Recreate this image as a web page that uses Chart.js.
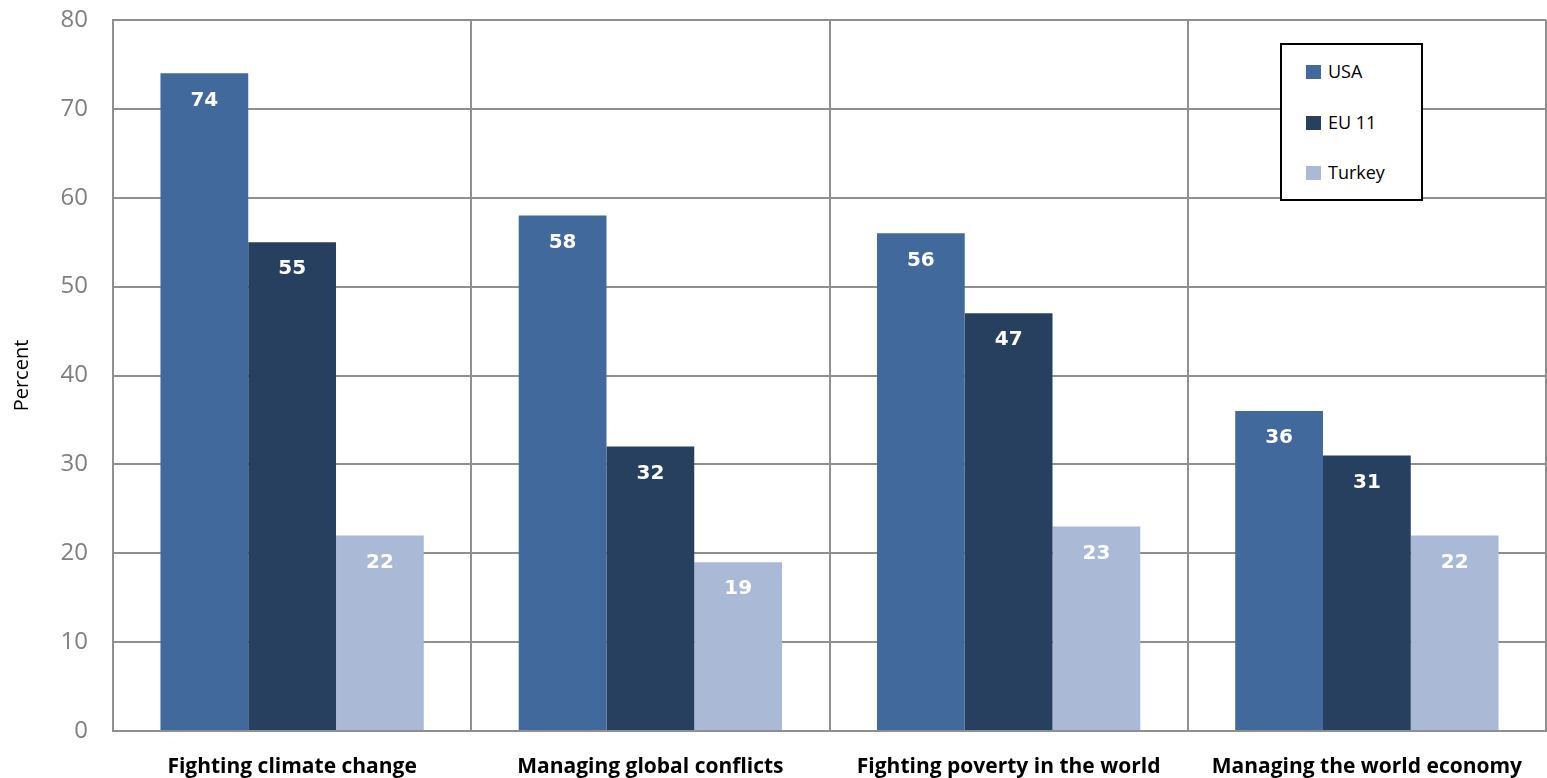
<!DOCTYPE html>
<html>
<head>
<meta charset="utf-8">
<script src="https://cdn.jsdelivr.net/npm/chart.js@4"></script>
<style>
  html, body { margin: 0; padding: 0; background: #fff; }
  #wrap { position: relative; width: 1547px; height: 778px; }
  #legend {
    position: absolute; left: 1280px; top: 43px; width: 139px; height: 154px;
    border: 2px solid #000; background: #fff;
    font-family: "Open Sans", sans-serif; font-size: 18px; color: #000;
  }
  #legend div { position: absolute; left: 24px; height: 22px; line-height: 22px; }
  #legend span { display: inline-block; width: 15px; height: 14px; margin-right: 7px; vertical-align: -1px; }
</style>
</head>
<body>
<div id="wrap">
  <canvas id="chart" width="1547" height="778"></canvas>
  <div id="legend"></div>
</div>
<script>
var categories = ['Fighting climate change', 'Managing global conflicts', 'Fighting poverty in the world', 'Managing the world economy'];
var usaValues = [74, 58, 56, 36];
var euValues = [55, 32, 47, 31];
var turkeyValues = [22, 19, 23, 22];
var seriesNames = ['USA', 'EU 11', 'Turkey'];
var seriesColors = ['#41699c', '#27405f', '#a9b9d6'];

var gridGray = '#8f8f8f';

// white numbers inside the top of each bar
var barLabels = {
    id: 'barLabels',
    afterDatasetsDraw: function(chart) {
        var ctx = chart.ctx;
        ctx.save();
        ctx.font = 'bold 20px "DejaVu Sans"';
        ctx.fillStyle = '#fff';
        ctx.textAlign = 'center';
        ctx.textBaseline = 'middle';
        chart.data.datasets.forEach(function(ds, i) {
            chart.getDatasetMeta(i).data.forEach(function(bar, j) {
                ctx.fillText(ds.data[j], bar.x, bar.y + 27);
            });
        });
        ctx.restore();
    }
};

var ctx = document.getElementById('chart').getContext('2d');
var chart = new Chart(ctx, {
    type: 'bar',
    data: {
        labels: categories,
        datasets: [
            { label: seriesNames[0], data: usaValues, backgroundColor: seriesColors[0] },
            { label: seriesNames[1], data: euValues, backgroundColor: seriesColors[1] },
            { label: seriesNames[2], data: turkeyValues, backgroundColor: seriesColors[2] }
        ]
    },
    options: {
        responsive: false,
        animation: false,
        datasets: { bar: { categoryPercentage: 0.735, barPercentage: 1.0 } },
        layout: { padding: { top: 20, right: 1, bottom: 0, left: 0 } },
        plugins: {
            legend: { display: false },
            tooltip: { enabled: false }
        },
        scales: {
            x: {
                grid: { offset: true, color: gridGray, lineWidth: 2, drawTicks: false },
                border: { color: gridGray, width: 2 },
                ticks: {
                    padding: 23,
                    maxRotation: 0,
                    color: '#000',
                    font: { family: '"Open Sans"', weight: 'bold', size: 21 }
                },
                afterFit: function(s) { s.height = 47; }
            },
            y: {
                min: 0, max: 80,
                grid: { color: gridGray, lineWidth: 2, drawTicks: false },
                border: { color: gridGray, width: 2 },
                ticks: {
                    stepSize: 10,
                    padding: 25,
                    color: '#7f7f7f',
                    font: { family: '"Open Sans"', size: 24 }
                },
                title: {
                    display: true,
                    text: 'Percent',
                    color: '#000',
                    padding: { top: 10, bottom: 0 },
                    font: { family: '"Open Sans"', size: 20 }
                },
                afterFit: function(s) {
                    s.width = 113;
                    s.paddingTop = 0;
                    s.paddingBottom = 0;
                }
            }
        }
    },
    plugins: [barLabels]
});

var legend = document.getElementById('legend');
var rowTops = [15, 66, 116];
seriesNames.forEach(function(name, i) {
    var row = document.createElement('div');
    row.style.top = rowTops[i] + 'px';
    row.innerHTML = '<span style="background:' + seriesColors[i] + '"></span>' + name;
    legend.appendChild(row);
});
</script>
</body>
</html>
